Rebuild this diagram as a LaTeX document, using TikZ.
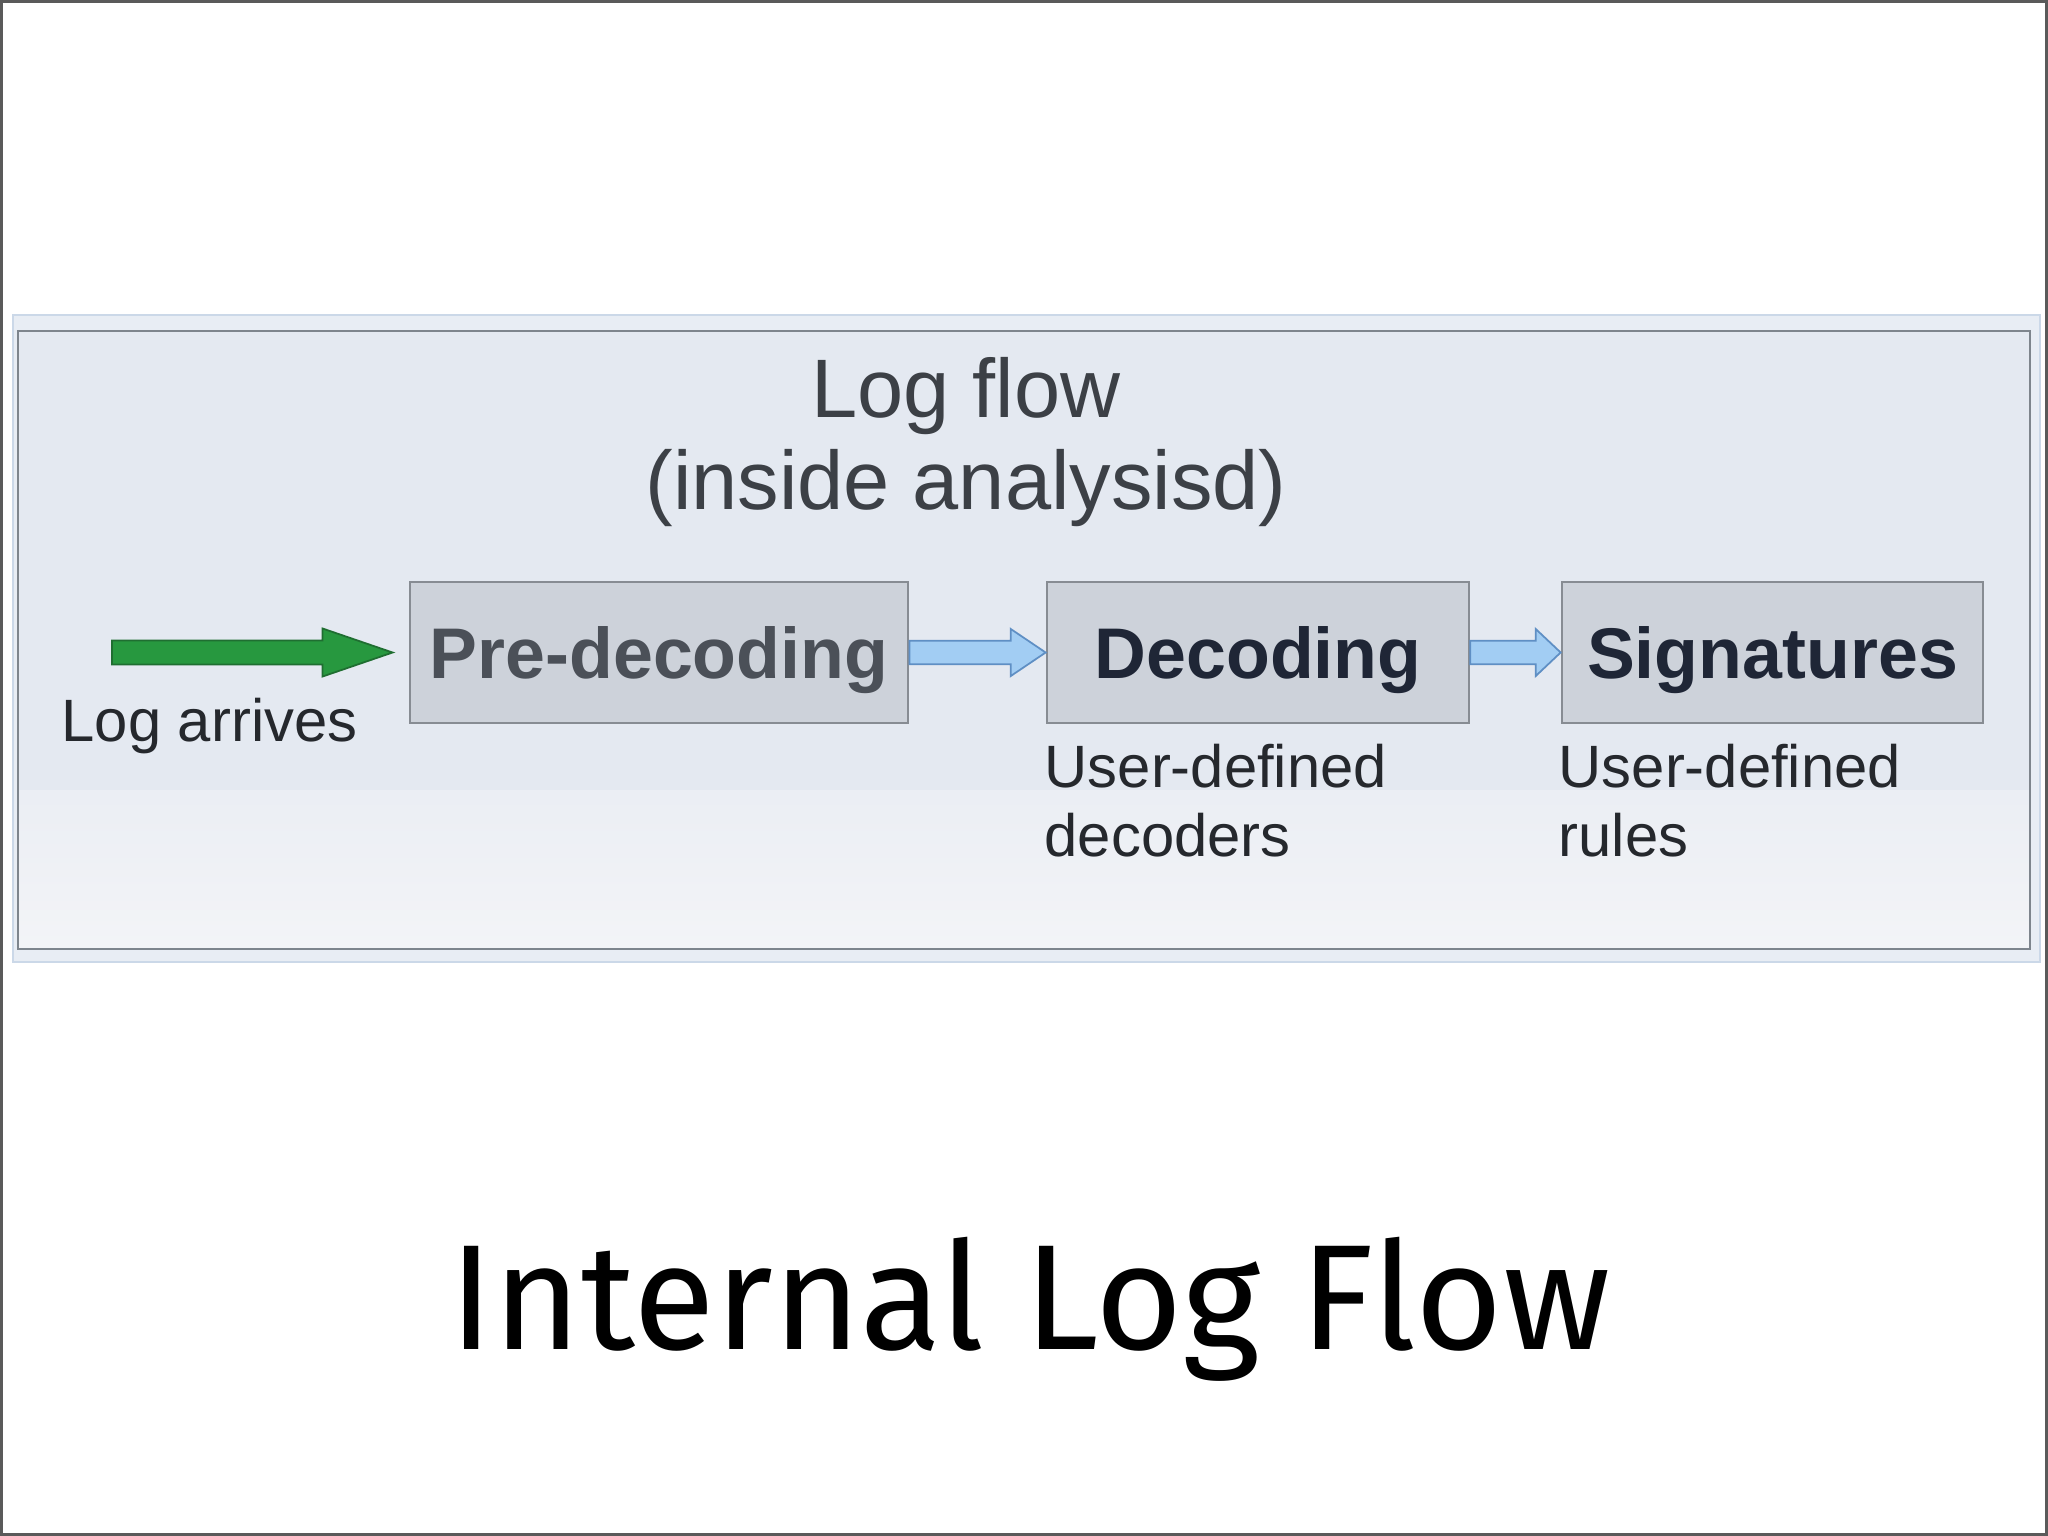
\documentclass[tikz,border=0pt]{standalone}
\usepackage{fontspec}
\setmainfont{Liberation Sans}
\newfontfamily\titlefont{Fira Sans}
\usetikzlibrary{calc,positioning}
\definecolor{framegray}{HTML}{5A5A5A}
\definecolor{panelfill}{HTML}{E8EDF4}
\definecolor{paneledge}{HTML}{CBD8E8}
\definecolor{innertop}{HTML}{E4E9F1}
\definecolor{innerbottom}{HTML}{F3F4F7}
\definecolor{innerline}{HTML}{7E858D}
\definecolor{boxfill}{HTML}{CDD2DA}
\definecolor{boxline}{HTML}{878C93}
\definecolor{softtext}{HTML}{4B5058}
\definecolor{hardtext}{HTML}{1F2636}
\definecolor{labeltext}{HTML}{25282D}
\definecolor{bluefill}{HTML}{A2CDF3}
\definecolor{blueline}{HTML}{5F8FC4}
\definecolor{greenfill}{HTML}{27983F}
\definecolor{greenline}{HTML}{1F6E31}
\tikzset{
  stage/.style     ={draw=boxline,fill=boxfill,line width=0.7pt,minimum height=1.41cm,inner sep=0pt,
                     text depth=0pt,font=\fontsize{20.4}{24}\selectfont\bfseries},
  heading/.style   ={font=\fontsize{23.6}{26.5}\selectfont,text=softtext!80!black,inner sep=0pt,anchor=base},
  note/.style      ={font=\fontsize{17}{19.6}\selectfont,text=labeltext,inner sep=0pt,align=left,anchor=base west},
  bluearrow/.style ={draw=blueline,fill=bluefill,line width=0.5pt},
  greenarrow/.style={draw=greenline,fill=greenfill,line width=0.5pt},
}
% block arrow: style, from, to, half shaft, head length
\newcommand{\blockarrow}[5]{%
  \draw[#1] let \p1=(#2), \p2=(#3) in
    (\x1,\y1+#4) -- (\x2-#5,\y1+#4) -- (\x2-#5,\y1+2*#4) -- (\x2,\y1)
    -- (\x2-#5,\y1-2*#4) -- (\x2-#5,\y1-#4) -- (\x1,\y1-#4) -- cycle;}

\begin{document}
\begin{tikzpicture}[x=0.01cm,y=-0.01cm]
  \useasboundingbox (0,0) rectangle (2048,1536);
  \fill[white] (0,0) rectangle (2048,1536);
  \draw[framegray,line width=1pt] (1,1) rectangle (2047,1535);
  % panel
  \draw[paneledge,fill=panelfill,line width=0.8pt] (13,315) rectangle (2040,962);
  \fill[innertop] (18,331) rectangle (2030,790);
  \shade[top color=innertop!55!innerbottom,bottom color=innerbottom] (18,790) rectangle (2030,949);
  \draw[innerline,line width=0.8pt] (18,331) rectangle (2030,949);

  \node[heading] (hd1) at (966,417) {Log flow};
  \node[heading] (hd2) at (966,509) {(inside analysisd)};

  % stages
  \node[stage,minimum width=4.98cm,text=softtext] (pre) at (659,652.5) {Pre-decoding};
  \node[stage,minimum width=4.22cm,text=hardtext] (dec) at (1258,652.5) {Decoding};
  \node[stage,minimum width=4.21cm,text=hardtext] (sig) at (1772.5,652.5) {Signatures};

  \coordinate (in) at (112,652.5);
  \blockarrow{greenarrow}{in}{$(pre.west)+(-16,0)$}{0.12cm}{0.70cm}
  \blockarrow{bluearrow}{pre.east}{dec.west}{0.118cm}{0.35cm}
  \blockarrow{bluearrow}{dec.east}{sig.west}{0.118cm}{0.25cm}

  \node[note] (arr) at (61,741) {Log arrives};
  \node[note] (decnote) at (1044,856) {User-defined\\decoders};
  \node[note] (signote) at (1558,856) {User-defined\\rules};

  \node[font=\titlefont\fontsize{42.6}{48}\selectfont,anchor=base,inner sep=0pt] (title) at (1030,1349) {Internal Log Flow};
\end{tikzpicture}
\end{document}
